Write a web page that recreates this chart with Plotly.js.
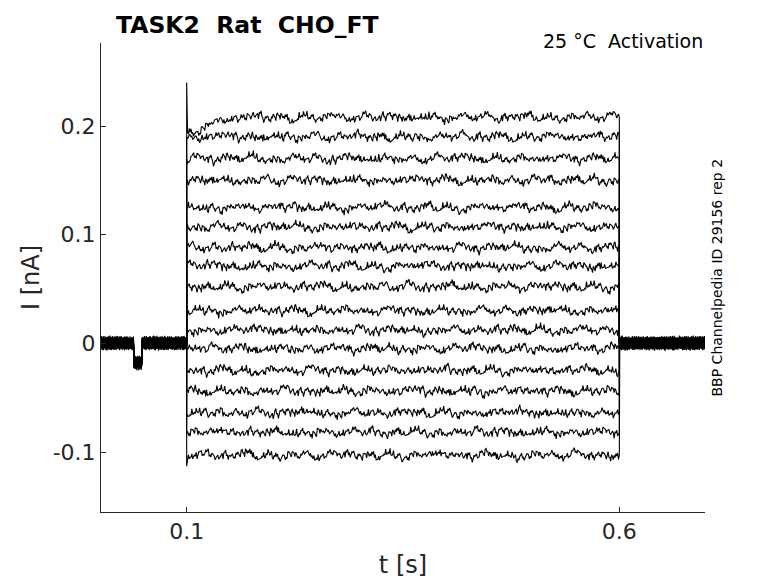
<!DOCTYPE html>
<html>
<head>
<meta charset="utf-8">
<script src="https://cdn.plot.ly/plotly-3.0.1.min.js"></script>
<style>
  html, body { margin: 0; padding: 0; background: #fff; }
  #graph { width: 778px; height: 583px; }
</style>
</head>
<body>
<div id="graph"></div>
<script>
// steady current of each sweep during the step (nA), top to bottom
const levels = [0.208, 0.190, 0.170, 0.150, 0.125, 0.107, 0.088, 0.071, 0.052,
                0.030, 0.012, -0.005, -0.025, -0.044, -0.064, -0.082, -0.103];
// value reached by the capacitive spike right at step onset
const onsetPeaks = [0.240, 0.190, 0.170, 0.150, 0.125, 0.107, 0.088, 0.071, 0.052,
                    0.030, 0.012, -0.005, -0.025, -0.044, -0.064, -0.082, -0.113];
// top sweep creeps up during the first 60 ms (one value per 2.5 ms)
const topOnset = [0.194, 0.195, 0.196, 0.196, 0.197, 0.198, 0.198, 0.199, 0.200, 0.200,
                  0.201, 0.202, 0.202, 0.203, 0.203, 0.204, 0.204, 0.205, 0.205, 0.206,
                  0.206, 0.207, 0.207, 0.207];
// recording noise, pA
const noise = [3, -1, 2, 5, -2, -4, 1, 0, -3, 2, 4, 1, -2, -5, -1, 3, 2, -1, 0, 4,
               6, 2, -3, -2, 1, -1, -4, -2, 3, 5, 0, -2, 2, 1, -3, -6, -2, 1, 4, 3,
               -1, 0, 2, -2, -4, 1, 5, 3, -1, -3, 0, 2, -1, -5, -3, 2, 4, 0, -2, 1,
               3, 6, 2, -1, -4, -2, 0, 3, 1, -3, -1, 2, 5, 1, -2, -4, -1, 2, 0, -2,
               3, 4, -1, -5, -2, 1, 3, 2, -2, 0, 4, 2, -3, -6, -1, 2, 1, -1, 3, 5,
               0, -3, -1, 2, -2, -4, 0, 3, 1, -1, 4, 2, -3, -2, 1, 5, 3, -2, -4, -1,
               1, -2, 0, 3, 6, 1, -3, -2, 2, 0, -4, -1, 3, 2, -1, 4, 1, -5, -3, 0, 2];
// test pulse in the holding period
const dipStart = 0.039, dipEnd = 0.0485, dipLevel = -0.018;
const stepOn = 0.1, stepOff = 0.6, tEnd = 0.7;

const traces = [];
levels.forEach(function (level, i) {
    const x = [], y = [];
    const N = noise.length;
    let k = i * 29;
    // fast jitter plus a slower wander taken from the same noise table
    function jit(fast, slow) {
        k++;
        const f = noise[(k * 5) % N];
        const s = noise[(Math.floor(k / 6) + i * 53) % N];
        return (f * fast + s * slow) / 1000;
    }
    // holding before the step
    for (let t = 0; t < stepOn; t += 0.0005) {
        const base = (t >= dipStart && t <= dipEnd) ? dipLevel : 0;
        x.push(t); y.push(base + jit(1.0, 0.2));
    }
    x.push(stepOn); y.push(0);
    x.push(stepOn); y.push(onsetPeaks[i]);
    // step
    for (let t = stepOn + 0.001; t < stepOff; t += 0.001) {
        const n = Math.floor((t - stepOn) / 0.0025);
        const lv = (i === 0 && n < topOnset.length) ? topOnset[n] : level;
        x.push(t); y.push(lv + jit(0.75, 0.5));
    }
    x.push(stepOff); y.push(level);
    x.push(stepOff); y.push(0);
    // holding after the step
    for (let t = stepOff + 0.0005; t <= tEnd; t += 0.0005) {
        x.push(t); y.push(jit(1.0, 0.2));
    }
    traces.push({
        x: x,
        y: y,
        type: "scatter",
        mode: "lines",
        line: { color: "#000000", width: 1.1 },
        hoverinfo: "skip",
        showlegend: false
    });
});

const axisColor = "#262626";
const layout = {
    width: 778,
    height: 583,
    paper_bgcolor: "#ffffff",
    plot_bgcolor: "#ffffff",
    font: { family: "DejaVu Sans", color: axisColor },
    margin: { l: 101, r: 73, t: 43, b: 71 },
    showlegend: false,
    xaxis: {
        range: [0.001, 0.699],
        tickvals: [0.1, 0.6],
        ticktext: ["0.1", "0.6"],
        ticks: "inside",
        ticklen: 5,
        tickcolor: axisColor,
        showline: true,
        linecolor: axisColor,
        linewidth: 1,
        showgrid: false,
        zeroline: false,
        tickfont: { size: 22, color: axisColor },
        title: { text: "t [s]", font: { size: 24, color: axisColor }, standoff: 12 }
    },
    yaxis: {
        range: [-0.1552, 0.2764],
        tickvals: [-0.1, 0, 0.1, 0.2],
        ticktext: ["-0.1", "0", "0.1", "0.2"],
        ticks: "inside",
        ticklen: 5,
        tickcolor: axisColor,
        showline: true,
        linecolor: axisColor,
        linewidth: 1,
        showgrid: false,
        zeroline: false,
        tickfont: { size: 22, color: axisColor },
        title: { text: "I [nA]", font: { size: 24, color: axisColor }, standoff: 6 }
    },
    annotations: [
        {
            text: "<b>TASK2  Rat  CHO_FT</b>",
            xref: "paper", yref: "paper",
            x: 0.0215, y: 1, xanchor: "left", yanchor: "bottom",
            yshift: 2,
            showarrow: false,
            font: { size: 23.5, color: "#000000" }
        },
        {
            text: "25 °C  Activation",
            xref: "paper", yref: "paper",
            x: 1, y: 1, xanchor: "right", yanchor: "middle",
            yshift: 2,
            showarrow: false,
            font: { size: 19, color: "#000000" }
        },
        {
            text: "BBP Channelpedia ID 29156 rep 2",
            xref: "paper", yref: "paper",
            x: 1, y: 0.5, xanchor: "center", yanchor: "middle",
            xshift: 11, yshift: 0,
            textangle: -90,
            showarrow: false,
            font: { size: 14, color: "#000000" }
        }
    ]
};

Plotly.newPlot("graph", traces, layout, { displayModeBar: false, staticPlot: true });
</script>
</body>
</html>
